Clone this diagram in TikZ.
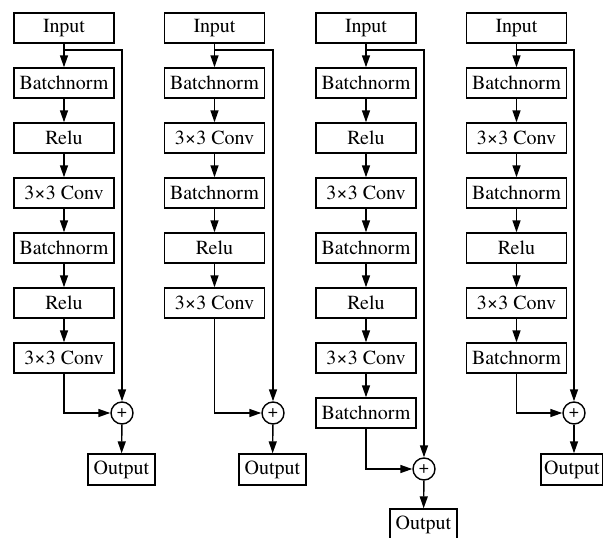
\documentclass[tikz,border=0pt]{standalone}
\usepackage{fontspec}
\setmainfont{texgyretermes-regular.otf}
\usetikzlibrary{arrows.meta}
\begin{document}
\begin{tikzpicture}[x=1pt,y=-1pt,
 blk/.style={draw, line width=1.4pt, minimum width=100pt, minimum height=30pt, inner sep=0pt, font=\fontsize{20}{22}\selectfont},
 outblk/.style={blk, minimum width=67pt, minimum height=31pt},
 sum/.style={draw, circle, line width=1.4pt, minimum size=22pt, inner sep=0pt, font=\fontsize{18}{18}\selectfont},
 arr/.style={line width=1.4pt, -{Triangle[length=12pt,width=8pt]}},
 ln/.style={line width=1.4pt}]
\useasboundingbox (0,0) rectangle (603,538);
% column 1
\foreach \t [count=\i from 0] in {Input,Batchnorm,Relu,3×3 Conv,Batchnorm,Relu,3×3 Conv}
  \node[blk] (a\i) at (64,28+55*\i) {\t};
\foreach \i [evaluate=\i as \j using int(\i+1)] in {0,...,5}
  \draw[arr] (a\i) -- (a\j);
\node[sum] (pa) at (122,413) {+};
\node[outblk] (oa) at (121.5,469.5) {Output};
\coordinate (sa) at (64,50);
\draw[arr] (sa) -| (pa);
\draw[arr] (a6) |- (pa);
\draw[arr] (pa) -- (oa);
% column 2
\foreach \t [count=\i from 0] in {Input,Batchnorm,3×3 Conv,Batchnorm,Relu,3×3 Conv}
  \node[blk] (b\i) at (214.5,28+55*\i) {\t};
\foreach \i [evaluate=\i as \j using int(\i+1)] in {0,...,4}
  \draw[arr] (b\i) -- (b\j);
\node[sum] (pb) at (273,413) {+};
\node[outblk] (ob) at (272.5,469.5) {Output};
\coordinate (sb) at (214.5,50);
\draw[arr] (sb) -| (pb);
\draw[arr] (b5) |- (pb);
\draw[arr] (pb) -- (ob);
% column 3
\foreach \t [count=\i from 0] in {Input,Batchnorm,Relu,3×3 Conv,Batchnorm,Relu,3×3 Conv,Batchnorm}
  \node[blk] (c\i) at (366,28+55*\i) {\t};
\foreach \i [evaluate=\i as \j using int(\i+1)] in {0,...,6}
  \draw[arr] (c\i) -- (c\j);
\node[sum] (pc) at (424,469) {+};
\node[outblk] (oc) at (423.5,524.5) {Output};
\coordinate (sc) at (366,50);
\draw[arr] (sc) -| (pc);
\draw[arr] (c7) |- (pc);
\draw[arr] (pc) -- (oc);
% column 4
\foreach \t [count=\i from 0] in {Input,Batchnorm,3×3 Conv,Batchnorm,Relu,3×3 Conv,Batchnorm}
  \node[blk] (d\i) at (516.5,28+55*\i) {\t};
\foreach \i [evaluate=\i as \j using int(\i+1)] in {0,...,5}
  \draw[arr] (d\i) -- (d\j);
\node[sum] (pd) at (574,413) {+};
\node[outblk, minimum width=62pt] (od) at (572,469.5) {Output};
\coordinate (sd) at (516.5,50);
\draw[arr] (sd) -| (pd);
\draw[arr] (d6) |- (pd);
\draw[arr] (pd) -- (pd |- od.north);
\end{tikzpicture}
\end{document}
